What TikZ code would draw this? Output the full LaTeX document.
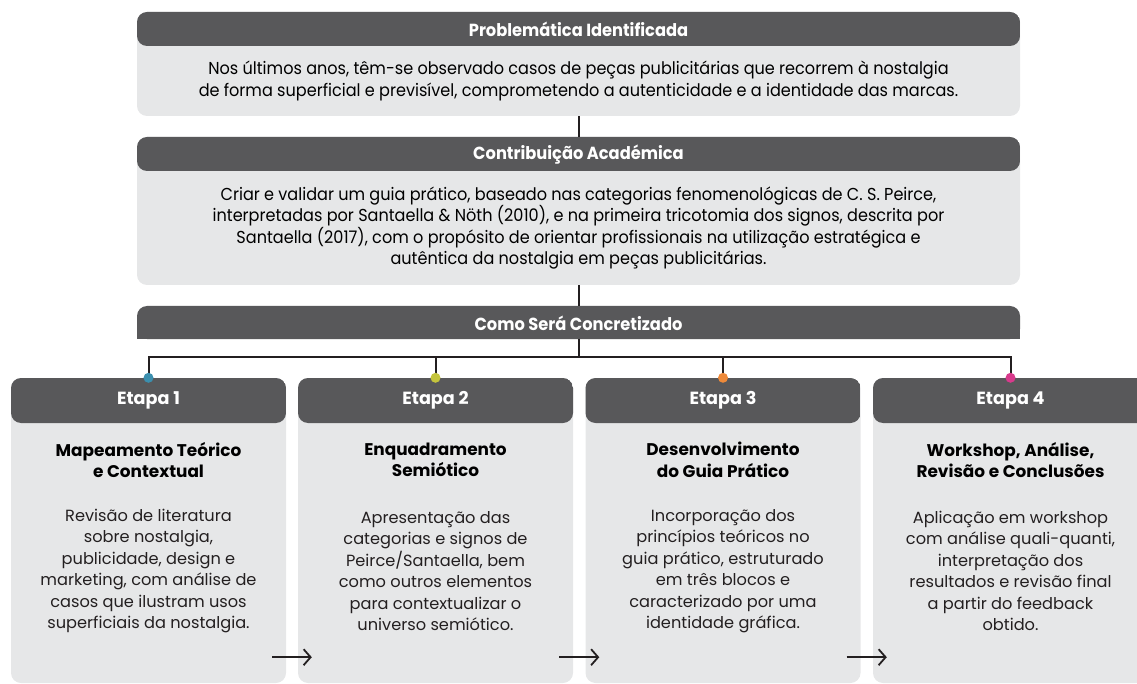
\documentclass[tikz,border=0pt]{standalone}
\usepackage{fontspec}
\setmainfont{Poppins}
\newfontfamily\condfont[FakeStretch=0.93]{Poppins}
\usetikzlibrary{arrows.meta}
\definecolor{hdrgray}{HTML}{58585A}
\definecolor{bodygray}{HTML}{E6E7E8}
\definecolor{linec}{HTML}{231F20}
\definecolor{dotA}{HTML}{3B8FAE}
\definecolor{dotB}{HTML}{C4C43C}
\definecolor{dotC}{HTML}{EE8A3A}
\definecolor{dotD}{HTML}{D83A8C}
\tikzset{
  panel/.style={fill=bodygray, rounded corners=10pt, inner sep=0pt, draw=none},
  hdrtxt/.style={text=white, font=\condfont\bfseries\fontsize{17.5}{20}\selectfont, inner sep=0pt},
  toptxt/.style={text=black, align=center, font=\condfont\fontsize{17.3}{21.2}\selectfont, inner sep=0pt},
  etapahdr/.style={text=white, font=\bfseries\fontsize{17.6}{20}\selectfont, inner sep=0pt},
  ttltxt/.style={text=black, align=center, font=\bfseries\fontsize{16.9}{21.5}\selectfont, inner sep=0pt},
  bodytxt/.style={text=linec, align=center, font=\fontsize{16.2}{21.5}\selectfont, inner sep=0pt},
  conn/.style={draw=linec, line width=2pt},
  arr/.style={draw=linec, line width=1.8pt, -{Straight Barb[length=7pt,width=16pt,line width=1.8pt]}},
  dot/.style={circle, inner sep=0pt, minimum size=10pt}
}
\begin{document}
\begin{tikzpicture}[x=1pt,y=-1pt]
\useasboundingbox (0,0) rectangle (1137,684);
\clip (0,0) rectangle (1137,684);
% top panel
\node[panel, minimum width=883pt, minimum height=104pt,
  path picture={\fill[hdrgray] (path picture bounding box.north west) rectangle ([yshift=-34pt]path picture bounding box.north east);}]
  (prob) at (578.5,64) {};
\node[hdrtxt] (probh) at (578.5,29) {Problemática Identificada};
\node[toptxt] (probt) at (578.5,81) {Nos últimos anos, têm-se observado casos de peças publicitárias que recorrem à nostalgia\\de forma superficial e previsível, comprometendo a autenticidade e a identidade das marcas.};
% contribution
\node[panel, minimum width=883pt, minimum height=148pt,
  path picture={\fill[hdrgray] (path picture bounding box.north west) rectangle ([yshift=-34pt]path picture bounding box.north east);}]
  (contr) at (578.5,211) {};
\node[hdrtxt] (contrh) at (578.5,154.5) {Contribuição Académica};
\node[toptxt] (contrt) at (578.5,228) {Criar e validar um guia prático, baseado nas categorias fenomenológicas de C. S. Peirce,\\interpretadas por Santaella \& Nöth (2010), e na primeira tricotomia dos signos, descrita por\\Santaella (2017), com o propósito de orientar profissionais na utilização estratégica e\\autêntica da nostalgia em peças publicitárias.};
% como bar
\node[fill=hdrgray, rounded corners=10pt, minimum width=883pt, minimum height=33pt, inner sep=0pt] (como) at (578.5,322.5) {};
\fill[hdrgray] (como.west) rectangle (como.south east);
\node[hdrtxt] (comoh) at (578.5,323) {Como Será Concretizado};
% etapa panels
\foreach \n/\cx in {1/148.5,2/435.5,3/723,4/1010.5}{
  \node[panel, minimum width=275pt, minimum height=305pt,
    path picture={\fill[hdrgray] (path picture bounding box.north west) rectangle ([yshift=-45pt]path picture bounding box.north east);}]
    (e\n) at (\cx,530.5) {};
  \node[etapahdr] (e\n h) at (\cx,400.5) {Etapa \n};
}
\node[ttltxt] (t1) at (148.5,460) {Mapeamento Teórico\\e Contextual};
\node[ttltxt] (t2) at (435.5,460) {Enquadramento\\Semiótico};
\node[ttltxt] (t3) at (723,460) {Desenvolvimento\\do Guia Prático};
\node[ttltxt] (t4) at (1010.5,460) {Workshop, Análise,\\Revisão e Conclusões};
\node[bodytxt] (b1) at (148.5,571) {Revisão de literatura\\sobre nostalgia,\\publicidade, design e\\marketing, com análise de\\casos que ilustram usos\\superficiais da nostalgia.};
\node[bodytxt] (b2) at (435.5,571) {Apresentação das\\categorias e signos de\\Peirce/Santaella, bem\\como outros elementos\\para contextualizar o\\universo semiótico.};
\node[bodytxt] (b3) at (723,571) {Incorporação dos\\princípios teóricos no\\guia prático, estruturado\\em três blocos e\\caracterizado por uma\\identidade gráfica.};
\node[bodytxt] (b4) at (1010.5,571) {Aplicação em workshop\\com análise quali-quanti,\\interpretação dos\\resultados e revisão final\\a partir do feedback\\obtido.};
% connectors
\draw[conn] (prob.south) -- (contr.north);
\draw[conn] (contr.south) -- (como.north);
\coordinate (bus) at (578.5,357);
\draw[conn] (como.south) -- (bus);
\draw[conn] (e1.north) |- (bus) -| (e4.north);
\draw[conn] (e2.north) -- (e2.north |- bus);
\draw[conn] (e3.north) -- (e3.north |- bus);
\node[dot, fill=dotA] (d1) at (e1.north) {};
\node[dot, fill=dotB] (d2) at (e2.north) {};
\node[dot, fill=dotC] (d3) at (e3.north) {};
\node[dot, fill=dotD] (d4) at (e4.north) {};
% arrows
\draw[arr] ([xshift=-14pt,yshift=26pt]e1.south east) -- ([xshift=14pt,yshift=26pt]e2.south west);
\draw[arr] ([xshift=-14pt,yshift=26pt]e2.south east) -- ([xshift=14pt,yshift=26pt]e3.south west);
\draw[arr] ([xshift=-14pt,yshift=26pt]e3.south east) -- ([xshift=14pt,yshift=26pt]e4.south west);
\end{tikzpicture}
\end{document}
